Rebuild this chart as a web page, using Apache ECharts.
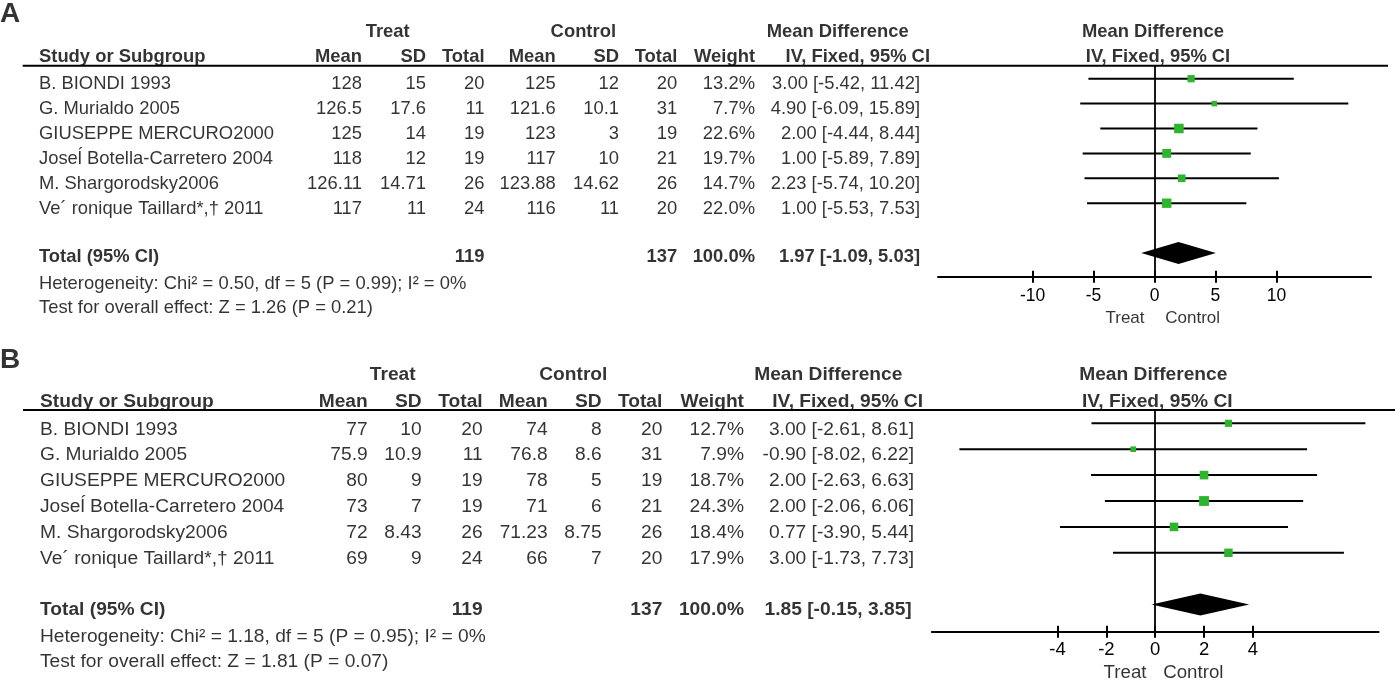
<!DOCTYPE html>
<html><head><meta charset="utf-8">
<script src="https://cdn.jsdelivr.net/npm/echarts@6/dist/echarts.min.js"></script>
<style>html,body{margin:0;padding:0;background:#fff}#c{width:1399px;height:690px}</style>
</head><body><div id="c"></div>
<script>
// ---------- DATA ----------
const studies = ["B. BIONDI 1993", "G. Murialdo 2005", "GIUSEPPE MERCURO2000", "Joseĺ Botella-Carretero 2004", "M. Shargorodsky2006", "Ve´ ronique Taillard*,† 2011"];

// Panel A
const treatMeanA = [128, 126.5, 125, 118, 126.11, 117];
const treatSdA = [15, 17.6, 14, 12, 14.71, 11];
const treatNA = [20, 11, 19, 19, 26, 24];
const ctrlMeanA = [125, 121.6, 123, 117, 123.88, 116];
const ctrlSdA = [12, 10.1, 3, 10, 14.62, 11];
const ctrlNA = [20, 31, 19, 21, 26, 20];
const weightA = [13.2, 7.7, 22.6, 19.7, 14.7, 22.0];
const mdA = [3.00, 4.90, 2.00, 1.00, 2.23, 1.00];
const loA = [-5.42, -6.09, -4.44, -5.89, -5.74, -5.53];
const hiA = [11.42, 15.89, 8.44, 7.89, 10.20, 7.53];
const totalA = [119, 137, 100.0];       // treat N, control N, weight
const pooledA = [1.97, -1.09, 5.03];    // MD, lo, hi
const hetA = "Heterogeneity: Chi² = 0.50, df = 5 (P = 0.99); I² = 0%";
const testA = "Test for overall effect: Z = 1.26 (P = 0.21)";
const ticksA = [-10, -5, 0, 5, 10];

// Panel B
const treatMeanB = [77, 75.9, 80, 73, 72, 69];
const treatSdB = [10, 10.9, 9, 7, 8.43, 9];
const treatNB = [20, 11, 19, 19, 26, 24];
const ctrlMeanB = [74, 76.8, 78, 71, 71.23, 66];
const ctrlSdB = [8, 8.6, 5, 6, 8.75, 7];
const ctrlNB = [20, 31, 19, 21, 26, 20];
const weightB = [12.7, 7.9, 18.7, 24.3, 18.4, 17.9];
const mdB = [3.00, -0.90, 2.00, 2.00, 0.77, 3.00];
const loB = [-2.61, -8.02, -2.63, -2.06, -3.90, -1.73];
const hiB = [8.61, 6.22, 6.63, 6.06, 5.44, 7.73];
const totalB = [119, 137, 100.0];
const pooledB = [1.85, -0.15, 3.85];
const hetB = "Heterogeneity: Chi² = 1.18, df = 5 (P = 0.95); I² = 0%";
const testB = "Test for overall effect: Z = 1.81 (P = 0.07)";
const ticksB = [-4, -2, 0, 2, 4];

// ---------- LAYOUT ----------
const F = "'Liberation Sans', Arial, Helvetica, sans-serif";
const TXT = '#000';
const layoutA = {letter:"A", rowTop:78.7, step:24.9, textOff:5.3, headY:65.7, axisY:276.7, fx0:938, fx1:1371, xMin:-17.75, xMax:17.75,
  ruleX0:22.7, ruleX1:1388, font:18.4, tickFont:17.5, lblFont:17, lblMargin:10,
  letterR:-2.79, treatR:-2.08, headR:-1.07, totalR:6.94, hetR:8.02, testR:9.0, tcR:9.41,
  c:{study:39, tMean:362, tSd:426, tN:484.5, cMean:555.7, cSd:619, cN:677.3, w:755, ci:920, totalCi:920, ciHead:930,
     treatHead:387.7, ctrlHead:583.3, mdHead:837.7, fHead1:1153, fHead2:1158, treatLbl:1125, ctrlLbl:1192.7}};
const layoutB = {letter:"B", rowTop:423.3, step:25.9, textOff:6, headY:410, axisY:631.7, fx0:931.8, fx1:1378.6, xMin:-9.15, xMax:9.15,
  ruleX0:23, ruleX1:1395, font:19.2, tickFont:18.5, lblFont:18.7, lblMargin:9,
  letterR:-2.68, treatR:-2.10, headR:-1.07, totalR:6.95, hetR:8.0, testR:8.97, tcR:9.42,
  c:{study:40, tMean:367.7, tSd:421.7, tN:482.7, cMean:547.7, cSd:601.7, cN:662.3, w:744, ci:914, totalCi:911.7, ciHead:923,
     treatHead:392.7, ctrlHead:573.3, mdHead:828.3, fHead1:1153.3, fHead2:1157.3, treatLbl:1125, ctrlLbl:1193.3}};

const panels = [
  {L:layoutA, tm:treatMeanA, ts:treatSdA, tn:treatNA, cm:ctrlMeanA, cs:ctrlSdA, cn:ctrlNA, w:weightA, md:mdA, lo:loA, hi:hiA, tot:totalA, pool:pooledA, het:hetA, test:testA, ticks:ticksA},
  {L:layoutB, tm:treatMeanB, ts:treatSdB, tn:treatNB, cm:ctrlMeanB, cs:ctrlSdB, cn:ctrlNB, w:weightB, md:mdB, lo:loB, hi:hiB, tot:totalB, pool:pooledB, het:hetB, test:testB, ticks:ticksB}
];

const ciText = (m, l, h) => m.toFixed(2) + " [" + l.toFixed(2) + ", " + h.toFixed(2) + "]";

const grid = [], xAxis = [], yAxis = [], series = [], graphic = [];

panels.forEach((P) => {
  const L = P.L, c = L.c, fs = L.font;
  // ---- table text grid (x in px units, y in row units) ----
  const gT = grid.length;
  grid.push({left:0, top:0, width:1399, height:690});
  const xT = xAxis.length;
  xAxis.push({gridIndex:gT, type:'value', min:0, max:1399, show:false});
  const base = L.rowTop + L.textOff;
  const yT = yAxis.length;
  yAxis.push({gridIndex:gT, type:'value', min:(0 - base) / L.step, max:(690 - base) / L.step, inverse:true, show:false});
  const items = [];
  const T = (x, r, t, align, bold, size) => items.push({value:[x, r], t:String(t),
    label:{align:align, fontWeight:bold ? 'bold' : 'normal', fontSize:size || fs}});
  T(0, L.letterR, L.letter, 'left', true, 28);
  T(c.treatHead, L.treatR, "Treat", 'center', true);
  T(c.ctrlHead, L.treatR, "Control", 'center', true);
  T(c.mdHead, L.treatR, "Mean Difference", 'center', true);
  T(c.fHead1, L.treatR, "Mean Difference", 'center', true);
  T(c.study, L.headR, "Study or Subgroup", 'left', true);
  T(c.tMean, L.headR, "Mean", 'right', true);
  T(c.tSd, L.headR, "SD", 'right', true);
  T(c.tN, L.headR, "Total", 'right', true);
  T(c.cMean, L.headR, "Mean", 'right', true);
  T(c.cSd, L.headR, "SD", 'right', true);
  T(c.cN, L.headR, "Total", 'right', true);
  T(c.w, L.headR, "Weight", 'right', true);
  T(c.ciHead, L.headR, "IV, Fixed, 95% CI", 'right', true);
  T(c.fHead2, L.headR, "IV, Fixed, 95% CI", 'center', true);
  studies.forEach((s, i) => {
    T(c.study, i, s, 'left');
    T(c.tMean, i, P.tm[i], 'right');
    T(c.tSd, i, P.ts[i], 'right');
    T(c.tN, i, P.tn[i], 'right');
    T(c.cMean, i, P.cm[i], 'right');
    T(c.cSd, i, P.cs[i], 'right');
    T(c.cN, i, P.cn[i], 'right');
    T(c.w, i, P.w[i].toFixed(1) + "%", 'right');
    T(c.ci, i, ciText(P.md[i], P.lo[i], P.hi[i]), 'right');
  });
  T(c.study, L.totalR, "Total (95% CI)", 'left', true);
  T(c.tN, L.totalR, P.tot[0], 'right', true);
  T(c.cN, L.totalR, P.tot[1], 'right', true);
  T(c.w, L.totalR, P.tot[2].toFixed(1) + "%", 'right', true);
  T(c.totalCi, L.totalR, ciText(P.pool[0], P.pool[1], P.pool[2]), 'right', true);
  T(c.study, L.hetR, P.het, 'left');
  T(c.study, L.testR, P.test, 'left');
  T(c.treatLbl, L.tcR, "Treat", 'center', false, L.lblFont);
  T(c.ctrlLbl, L.tcR, "Control", 'center', false, L.lblFont);
  series.push({type:'scatter', xAxisIndex:xT, yAxisIndex:yT, symbolSize:0, silent:true, animation:false,
    itemStyle:{color:'transparent'},
    label:{show:true, position:[0, 0], verticalAlign:'middle', color:TXT, fontFamily:F, formatter:(p) => p.data.t},
    labelLayout:{hideOverlap:false}, data:items});

  // ---- forest grid ----
  const gF = grid.length;
  grid.push({left:L.fx0, top:L.headY, width:L.fx1 - L.fx0, height:L.axisY - L.headY});
  const xF = xAxis.length;
  xAxis.push({gridIndex:gF, type:'value', min:L.xMin, max:L.xMax, position:'bottom',
    axisLine:{show:true, onZero:false, lineStyle:{color:'#000', width:2}},
    axisTick:{show:true, customValues:P.ticks, length:6, lineStyle:{color:'#000', width:2}},
    axisLabel:{show:true, customValues:P.ticks, fontSize:L.tickFont, color:TXT, fontFamily:F, margin:L.lblMargin},
    splitLine:{show:false}});
  xAxis.push({gridIndex:gF, type:'value', min:L.xMin, max:L.xMax, position:'bottom', offset:0,
    axisLine:{show:false, onZero:false},
    axisTick:{show:true, inside:true, customValues:P.ticks, length:6, lineStyle:{color:'#000', width:2}},
    axisLabel:{show:false}, splitLine:{show:false}});
  const yF = yAxis.length;
  yAxis.push({gridIndex:gF, type:'value', min:(L.headY - L.rowTop) / L.step, max:(L.axisY - L.rowTop) / L.step, inverse:true, show:false,
    axisLine:{onZero:false}});
  // CI lines + zero line
  series.push({type:'custom', xAxisIndex:xF, yAxisIndex:yF, silent:true, animation:false,
    encode:{x:[0, 1], y:2},
    data:P.lo.map((l, i) => [l, P.hi[i], i]),
    renderItem:(params, api) => {
      const a = api.coord([api.value(0), api.value(2)]);
      const b = api.coord([api.value(1), api.value(2)]);
      return {type:'line', shape:{x1:a[0], y1:a[1], x2:b[0], y2:b[1]}, style:{stroke:'#000', lineWidth:2}};
    },
    markLine:{silent:true, symbol:'none', animation:false, label:{show:false},
      lineStyle:{color:'#000', width:1.8, type:'solid'}, data:[{xAxis:0}]}});
  // squares
  series.push({type:'scatter', xAxisIndex:xF, yAxisIndex:yF, silent:true, animation:false, symbol:'rect', z:5,
    symbolSize:(v) => 2 * Math.sqrt(v[2]),
    itemStyle:{color:'#2db52d', opacity:1},
    data:P.md.map((m, i) => [m, i, P.w[i]])});
  // pooled diamond
  const dRow = studies.length + 1;
  series.push({type:'custom', xAxisIndex:xF, yAxisIndex:yF, silent:true, animation:false, z:6,
    encode:{x:[0, 1, 2], y:3},
    data:[[P.pool[0], P.pool[1], P.pool[2], dRow]],
    renderItem:(params, api) => {
      const m = api.coord([api.value(0), api.value(3)]);
      const l = api.coord([api.value(1), api.value(3)]);
      const h = api.coord([api.value(2), api.value(3)]);
      const hh = 11;
      return {type:'polygon', shape:{points:[[l[0], m[1]], [m[0], m[1] - hh], [h[0], m[1]], [m[0], m[1] + hh]]}, style:{fill:'#000'}};
    }});
  // header rule
  graphic.push({type:'line', shape:{x1:L.ruleX0, y1:L.headY, x2:L.ruleX1, y2:L.headY}, style:{stroke:'#000', lineWidth:2}, z:10});
});

const chart = echarts.init(document.getElementById('c'), null, {renderer:'canvas'});
chart.setOption({animation:false, backgroundColor:'#fff', grid, xAxis, yAxis, series, graphic});
</script></body></html>
